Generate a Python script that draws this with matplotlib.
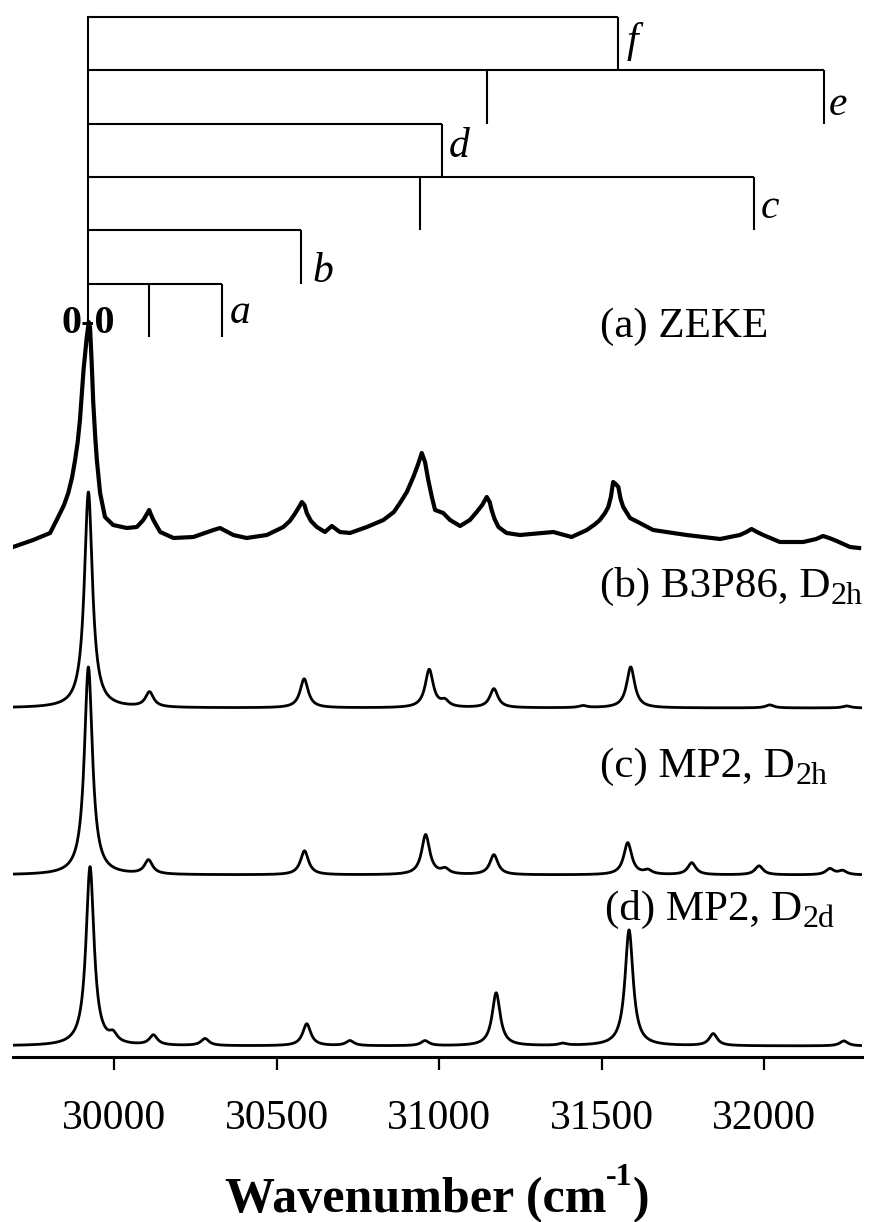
import numpy as np
import matplotlib
matplotlib.use("Agg")
import matplotlib.pyplot as plt

plt.rcParams["font.family"] = ["Liberation Serif", "DejaVu Serif"]

# ---------------- data ----------------
# (a) measured ZEKE trace: wavenumber (cm-1) and signal (arb. units, offset included)
zeke_wn = [29688, 29750, 29802, 29827, 29845, 29858, 29870, 29879, 29887, 29894,
           29905, 29915, 29921, 29925, 29930, 29935, 29941, 29946, 29956, 29971,
           29996, 30038, 30069, 30089, 30100, 30107, 30113, 30120, 30141, 30182,
           30243, 30305, 30325, 30366, 30407, 30469, 30520, 30540, 30555, 30570,
           30577, 30585, 30592, 30605, 30623, 30648, 30669, 30694, 30725, 30777,
           30828, 30860, 30879, 30900, 30920, 30935, 30946, 30956, 30966, 30977,
           30987, 31012, 31033, 31064, 31094, 31115, 31132, 31146, 31155, 31161,
           31170, 31182, 31207, 31248, 31351, 31407, 31454, 31480, 31494, 31510,
           31520, 31528, 31535, 31543, 31551, 31558, 31566, 31587, 31617, 31658,
           31761, 31864, 31925, 31945, 31961, 31978, 31997, 32048, 32120, 32160,
           32181, 32200, 32223, 32264, 32292]
zeke_sig = [5.10, 5.17, 5.24, 5.40, 5.52, 5.64, 5.80, 5.97, 6.15, 6.37,
            6.87, 7.20, 7.35, 7.30, 6.95, 6.54, 6.20, 5.97, 5.64, 5.40,
            5.32, 5.29, 5.30, 5.37, 5.43, 5.47, 5.42, 5.37, 5.25, 5.19,
            5.20, 5.27, 5.29, 5.22, 5.19, 5.22, 5.30, 5.36, 5.43, 5.51,
            5.55, 5.52, 5.44, 5.36, 5.30, 5.25, 5.31, 5.25, 5.24, 5.30,
            5.37, 5.45, 5.54, 5.65, 5.80, 5.93, 6.04, 5.95, 5.77, 5.60,
            5.47, 5.44, 5.37, 5.31, 5.37, 5.45, 5.52, 5.60, 5.55, 5.47,
            5.38, 5.30, 5.24, 5.22, 5.25, 5.20, 5.27, 5.33, 5.37, 5.44,
            5.50, 5.60, 5.75, 5.73, 5.70, 5.58, 5.50, 5.39, 5.34, 5.27,
            5.22, 5.18, 5.22, 5.25, 5.28, 5.25, 5.22, 5.15, 5.15, 5.18,
            5.21, 5.19, 5.16, 5.10, 5.09]

# (b) B3P86 D2h stick spectrum
b3p86_pos = [29920, 30108, 30584, 30969, 31017, 31168, 31442, 31589, 32017, 32254]
b3p86_int = [2.16, 0.15, 0.29, 0.38, 0.06, 0.19, 0.02, 0.41, 0.03, 0.02]

# (c) MP2 D2h stick spectrum
mp2h_pos = [29920, 30105, 30585, 30958, 31018, 31168, 31580, 31642, 31777, 31984, 32202, 32241]
mp2h_int = [2.08, 0.14, 0.24, 0.40, 0.05, 0.20, 0.32, 0.04, 0.12, 0.09, 0.06, 0.04]

# (d) MP2 D2d stick spectrum
mp2d_pos = [29925, 29996, 30120, 30279, 30592, 30725, 30956, 31175, 31380, 31584, 31843, 32245]
mp2d_int = [1.79, 0.08, 0.10, 0.07, 0.22, 0.05, 0.05, 0.53, 0.02, 1.16, 0.12, 0.05]

# vibrational progressions built on the 0-0 band
origin_00 = 29920
prog_names = ["f", "e", "d", "c", "b", "a"]
prog_members = [[31549], [31148, 32185], [31007], [30941, 31968], [30573], [30108, 30330]]

xticks = [30000, 30500, 31000, 31500, 32000]

# ---------------- layout ----------------
fwhm = 30.0
xmin, xmax = 29687, 32300
base_b, base_c, base_d = 3.49, 1.82, 0.11
level_top, level_step = 10.40, 0.533
W, H = 869, 1222

fig = plt.figure(figsize=(W / 100, H / 100), dpi=100)
ax = fig.add_axes([12.7 / W, 1 - 1057 / H, 849 / W, 1047 / H])
ax.set_xlim(xmin, xmax)
ax.set_ylim(0, 10.47)

grid = np.linspace(xmin, xmax, 3000)


def broadened(pos, inten):
    y = np.zeros_like(grid)
    hw = fwhm / 2.0
    for p, h in zip(pos, inten):
        y += h / (1.0 + ((grid - p) / hw) ** 2)
    return y


lw_sim = 2.0
ax.plot(zeke_wn, zeke_sig, color="black", lw=3.0, solid_joinstyle="round")
ax.plot(grid, base_b + broadened(b3p86_pos, b3p86_int), color="black", lw=lw_sim)
ax.plot(grid, base_c + broadened(mp2h_pos, mp2h_int), color="black", lw=lw_sim)
ax.plot(grid, base_d + broadened(mp2d_pos, mp2d_int), color="black", lw=lw_sim)

# progression combs
lw_p = 1.5
n_lev = len(prog_names)
ax.plot([origin_00, origin_00], [level_top, level_top - n_lev * level_step],
        color="black", lw=lw_p, clip_on=False)
for i, members in enumerate(prog_members):
    y0 = level_top - i * level_step
    ax.plot([origin_00, max(members)], [y0, y0], color="black", lw=lw_p,
            clip_on=False, solid_capstyle="butt")
    for m in members:
        ax.plot([m, m], [y0, y0 - level_step], color="black", lw=lw_p,
                clip_on=False, solid_capstyle="butt")

# progression letters (x, baseline y)
letter_xy = {"f": (31575, 10.05), "e": (32200, 9.42), "d": (31030, 9.00),
             "c": (31990, 8.39), "b": (30610, 7.75), "a": (30355, 7.34)}
for name in prog_names:
    x, y = letter_xy[name]
    ax.text(x, y, name, fontsize=30, style="italic", ha="left", va="baseline")

ax.text(origin_00, 7.24, "0-0", fontsize=29, fontweight="bold", ha="center",
        va="baseline")


# trace labels with a lowered subscript
def label_with_sub(x, y, main, sub=None):
    t = ax.text(x, y, main, fontsize=31, ha="left", va="baseline")
    if sub:
        ax.annotate(sub, xy=(1, 0), xycoords=t, xytext=(0.5, 1.5),
                    textcoords="offset points", fontsize=23, ha="left",
                    va="baseline")


lab_x = 31494
label_with_sub(lab_x, 7.20, "(a) ZEKE")
label_with_sub(lab_x, 4.60, "(b) B3P86, D", "2h")
label_with_sub(lab_x, 2.80, "(c) MP2, D", "2h")
label_with_sub(lab_x + 15, 1.37, "(d) MP2, D", "2d")

# axes styling
for side in ["top", "left", "right"]:
    ax.spines[side].set_visible(False)
ax.spines["bottom"].set_linewidth(2.2)
ax.set_yticks([])
ax.set_xticks(xticks)
ax.set_xticklabels([str(t) for t in xticks])
ax.tick_params(axis="x", direction="out", length=9.5, width=1.6, pad=21, labelsize=30)

# axis title: "Wavenumber (cm" + raised "-1" + ")"
renderer = fig.canvas.get_renderer()
x_center_px = 437.0
base_px = H - 1212.0
sup_px = H - 1185.0
parts = [("Wavenumber (cm", 36, base_px), ("-1", 23, sup_px), (")", 36, base_px)]
texts = []
for s, fs, yb in parts:
    texts.append(fig.text(0, yb / H, s, fontsize=fs, fontweight="bold",
                          ha="left", va="baseline"))
widths = [t.get_window_extent(renderer).width for t in texts]
x_px = x_center_px - sum(widths) / 2.0
for t, w in zip(texts, widths):
    t.set_x(x_px / W)
    x_px += w

fig.savefig("out.png", dpi=100)
